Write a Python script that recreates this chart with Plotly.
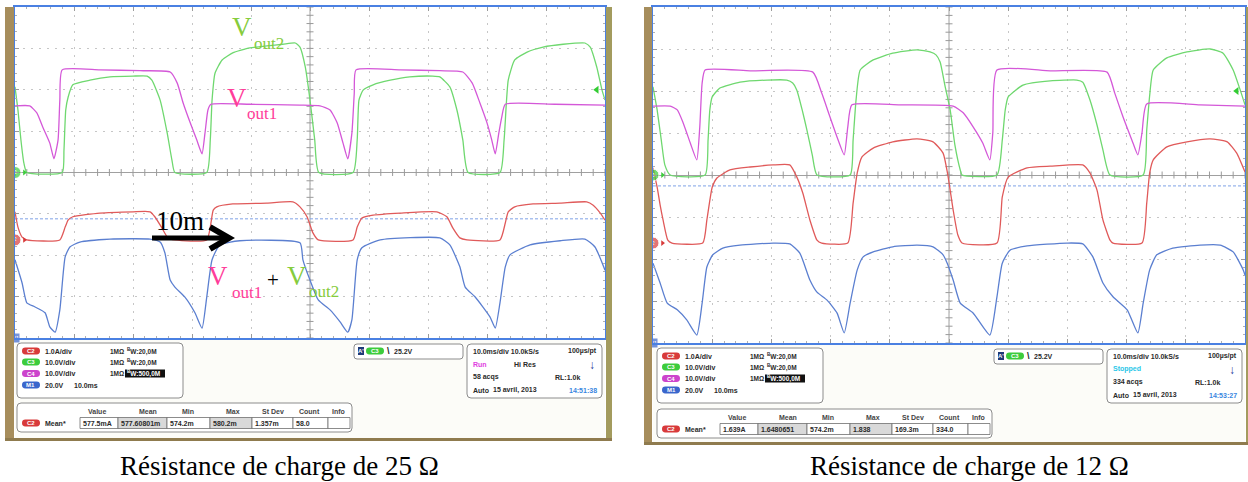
import plotly.graph_objects as go

W, H = 1248, 482

# time in ms (10 ms/div), amplitude in screen divisions (0 = centre line, +-4 div)
# C2 = load current (red), C3 = Vout2 (green), C4 = Vout1 (magenta), M1 = Vout1 + Vout2 (blue)

# ---- load of 25 ohm ----
c4_25_t = [0, 2.5, 3.7, 4.7, 5.9, 6.6, 7.3, 7.6, 8.0, 14.4, 21.2, 26.3, 27.5, 28.5, 29.7, 30.8, 31.7, 32.2,
           32.7, 33.2, 39.8, 48.3, 51.7, 53.4, 54.6, 55.6, 56.4, 57.1, 57.5, 57.8, 65.3, 72.0, 75.9, 77.5,
           78.8, 80.0, 80.8, 81.4, 82.0, 82.5, 83.1, 91.5, 100]
c4_25_v = [1.61, 1.61, 1.44, 1.10, 0.71, 0.33, 0.79, 1.75, 2.48, 2.48, 2.46, 2.43, 2.16, 1.68, 1.20, 0.79,
           0.45, 0.95, 1.51, 1.65, 1.65, 1.63, 1.61, 1.51, 1.20, 0.71, 0.33, 0.95, 1.91, 2.48, 2.48, 2.46,
           2.43, 2.16, 1.68, 1.20, 0.79, 0.45, 0.95, 1.34, 1.65, 1.65, 1.63]

c3_25_t = [0, 0.5, 1.0, 1.5, 2.0, 8.0, 8.3, 8.6, 9.0, 9.8, 12.7, 16.1, 20.0, 22.4, 23.2, 24.6, 25.8, 26.6,
           27.1, 32.5, 33.1, 33.4, 33.9, 35.1, 36.9, 39.8, 42.7, 45.4, 47.5, 48.3, 49.2, 50.0, 50.8, 51.5,
           57.3, 58.0, 58.3, 59.0, 60.7, 63.6, 66.9, 70.8, 72.0, 73.7, 74.9, 75.9, 76.8, 82.2, 82.9, 83.6,
           84.7, 86.8, 89.5, 92.9, 96.6, 97.5, 98.6, 99.5, 100]
c3_25_v = [2.07, 1.51, 0.79, 0.23, 0, 0, 0.54, 1.51, 1.82, 2.12, 2.23, 2.31, 2.33, 2.33, 2.23, 1.75, 0.95,
           0.30, 0, 0, 0.79, 1.75, 2.40, 2.72, 2.89, 3.01, 3.06, 3.10, 3.13, 3.03, 2.55, 1.75, 0.79, 0, 0,
           0.79, 1.75, 1.99, 2.12, 2.23, 2.31, 2.33, 2.31, 2.07, 1.51, 0.79, 0, 0, 0.79, 2.23, 2.72, 2.91,
           3.03, 3.10, 3.13, 3.03, 2.55, 1.99, 1.75]

c2_25_t = [0, 0.5, 1.2, 2.0, 7.6, 8.5, 9.0, 9.8, 14.4, 20.0, 22.9, 23.7, 24.9, 25.9, 27.1, 32.5, 33.6, 34.2,
           36.9, 42.7, 47.1, 48.3, 49.5, 50.5, 51.4, 57.3, 58.0, 58.8, 60.7, 65.3, 71.5, 73.2, 74.2, 75.4,
           76.6, 82.2, 83.1, 83.6, 84.7, 87.8, 92.4, 96.9, 98.0, 99.2, 100]
c2_25_v = [-0.95, -1.32, -1.56, -1.63, -1.63, -1.32, -1.15, -1.07, -0.98, -0.95, -0.95, -1.07, -1.34, -1.58,
           -1.63, -1.63, -0.91, -0.83, -0.76, -0.74, -0.71, -0.83, -1.07, -1.46, -1.63, -1.63, -1.32, -1.10,
           -1.03, -0.98, -0.95, -1.07, -1.34, -1.58, -1.63, -1.63, -1.22, -0.95, -0.83, -0.76, -0.74, -0.71,
           -0.79, -0.98, -1.15]

m1_25_t = [0, 1.2, 2.0, 3.4, 5.1, 5.9, 6.8, 7.6, 8.5, 9.3, 11.0, 16.1, 22.9, 24.6, 25.4, 26.3, 27.1, 28.8,
           30.5, 31.7, 32.5, 33.4, 34.7, 38.1, 48.3, 48.8, 50.0, 51.4, 53.4, 55.1, 56.4, 57.1, 58.0, 58.8,
           61.9, 72.0, 73.7, 75.4, 76.3, 78.0, 80.5, 81.4, 82.2, 83.1, 83.9, 87.3, 92.4, 96.6, 98.3, 100]
m1_25_v = [-2.11, -2.67, -3.15, -3.25, -3.39, -3.73, -3.86, -3.32, -2.04, -1.80, -1.68, -1.61, -1.61, -1.68,
           -1.94, -2.60, -2.77, -3.01, -3.39, -3.76, -3.01, -2.11, -1.75, -1.65, -1.70, -2.11, -2.60, -3.08,
           -3.32, -3.61, -3.86, -3.56, -2.11, -1.82, -1.63, -1.58, -1.75, -2.28, -2.77, -3.01, -3.49, -3.76,
           -3.15, -2.28, -1.99, -1.75, -1.65, -1.61, -1.80, -2.36]

# ---- load of 12 ohm ----
c4_12_t = [0, 2.9, 4.1, 5.1, 6.3, 7.4, 7.9, 8.3, 8.8, 16.4, 27.0, 28.5, 29.9, 31.1, 32.3, 32.9, 33.6, 41.7,
           50.7, 52.4, 54.1, 55.7, 56.9, 57.4, 58.1, 67.1, 76.7, 78.0, 79.4, 80.9, 81.9, 82.6, 83.4, 92.4, 100]
c4_12_v = [1.64, 1.64, 1.55, 1.24, 0.76, 0.36, 1.14, 2.19, 2.50, 2.48, 2.45, 1.95, 1.38, 0.90, 0.48, 1.14,
           1.67, 1.67, 1.64, 1.48, 1.14, 0.76, 0.36, 1.00, 2.50, 2.48, 2.45, 1.95, 1.38, 0.83, 0.48, 1.00,
           1.69, 1.67, 1.64]

c3_12_t = [0, 0.7, 1.4, 2.0, 2.9, 8.8, 9.3, 9.6, 10.0, 11.3, 14.7, 19.3, 22.6, 23.6, 24.3, 25.2, 26.0, 26.9,
           27.7, 33.3, 33.8, 34.3, 35.0, 37.2, 40.5, 44.6, 46.8, 47.8, 48.5, 49.3, 50.2, 51.0, 51.9, 52.2,
           58.1, 59.0, 59.5, 60.0, 62.5, 67.1, 71.6, 72.6, 73.8, 75.0, 76.0, 77.2, 82.8, 83.4, 83.9, 84.5,
           86.8, 90.2, 94.1, 96.3, 98.0, 99.2, 100]
c3_12_v = [2.10, 1.55, 0.83, 0.24, 0, 0, 0.83, 1.55, 1.86, 2.07, 2.21, 2.26, 2.26, 2.19, 2.02, 1.55, 1.07,
           0.48, 0, 0, 0.83, 1.79, 2.50, 2.74, 2.90, 2.98, 2.93, 2.86, 2.69, 2.14, 1.55, 0.71, 0.12, 0, 0,
           0.83, 1.55, 1.86, 2.14, 2.24, 2.26, 2.21, 1.79, 1.19, 0.60, 0, 0, 1.07, 1.90, 2.50, 2.79, 2.93,
           3.00, 2.90, 2.50, 2.02, 1.67]

c2_12_t = [0, 0.7, 1.2, 1.7, 2.5, 3.2, 8.4, 9.1, 10.0, 10.8, 13.0, 16.4, 20.3, 23.1, 24.3, 25.3, 26.5, 27.7,
           28.5, 32.9, 33.8, 34.5, 35.3, 37.2, 40.5, 44.6, 47.3, 49.0, 49.8, 50.7, 51.5, 52.2, 58.1, 59.0,
           60.0, 63.2, 67.1, 72.6, 73.8, 75.0, 76.0, 77.2, 77.7, 82.6, 83.4, 83.9, 84.5, 86.8, 90.2, 94.1,
           97.0, 98.6, 100]
c2_12_v = [0.17, -0.29, -0.71, -1.07, -1.55, -1.62, -1.62, -1.07, -0.29, -0.07, 0.12, 0.19, 0.24, 0.24,
           -0.05, -0.43, -1.07, -1.55, -1.62, -1.62, -0.67, 0.05, 0.43, 0.64, 0.79, 0.86, 0.79, 0.52, 0,
           -0.83, -1.43, -1.62, -1.62, -0.52, -0.05, 0.17, 0.21, 0.24, 0.05, -0.36, -1.07, -1.55, -1.62,
           -1.62, -0.67, 0.05, 0.36, 0.67, 0.79, 0.86, 0.79, 0.52, 0.07]

m1_12_t = [0, 1.2, 2.4, 4.1, 5.7, 7.4, 8.3, 9.1, 10.1, 11.8, 14.7, 20.3, 23.1, 24.8, 26.5, 27.7, 29.4, 31.1,
           32.3, 33.3, 34.5, 35.5, 37.2, 40.5, 44.6, 47.3, 49.0, 49.7, 50.7, 51.9, 54.1, 56.9, 58.1, 59.0,
           60.3, 63.2, 69.9, 72.6, 74.3, 76.0, 77.7, 80.1, 81.9, 82.8, 83.9, 85.1, 87.8, 92.4, 95.8, 98.0,
           99.7, 100]
m1_12_v = [-2.10, -2.57, -3.05, -3.21, -3.45, -3.81, -3.05, -2.19, -1.90, -1.74, -1.67, -1.62, -1.64, -1.86,
           -2.50, -2.79, -2.98, -3.29, -3.76, -3.05, -2.26, -1.95, -1.83, -1.71, -1.67, -1.71, -1.90, -2.10,
           -2.50, -3.05, -3.29, -3.81, -2.90, -2.10, -1.79, -1.69, -1.62, -1.64, -1.95, -2.57, -2.90, -3.21,
           -3.76, -3.05, -2.26, -1.90, -1.74, -1.67, -1.67, -1.83, -2.26, -2.38]

ground_c3 = [0.0, 0.0]
ground_c2 = [-1.63, -1.62]
ground_m1 = [-4.0, -4.0]
cursor_level = [-1.12, -0.26]
trig_level = [2.0, 2.0]

captions = ["Résistance de charge de 25 Ω", "Résistance de charge de 12 Ω"]
meas_heads = ["Value", "Mean", "Min", "Max", "St Dev", "Count", "Info"]
meas_25 = ["577.5mA", "577.60801m", "574.2m", "580.2m", "1.357m", "58.0", ""]
meas_12 = ["1.639A", "1.6480651", "574.2m", "1.838", "169.3m", "334.0", ""]

COL = {"C2": "#e05a5a", "C3": "#6fd86f", "C4": "#d458d8", "M1": "#5b7fd0"}
PILL = {"C2": "#d83a3a", "C3": "#3ccc3c", "C4": "#cc44cc", "M1": "#3a66cc"}
PINK = "#ff3d9a"
LGREEN = "#86cc3c"


def X(px):
    return px / W


def Y(py):
    return 1 - py / H


shapes = []
annotations = []


def rect(x0, y0, x1, y1, fill, line=None, width=0, layer="above"):
    shapes.append(dict(type="rect", xref="paper", yref="paper", x0=X(x0), x1=X(x1), y0=Y(y1), y1=Y(y0),
                       fillcolor=fill, line=dict(color=line or fill, width=width), layer=layer))


def rrect(x0, y0, x1, y1, r, fill, line=None, width=1):
    p = (f"M {X(x0 + r)} {Y(y0)} L {X(x1 - r)} {Y(y0)} Q {X(x1)} {Y(y0)} {X(x1)} {Y(y0 + r)} "
         f"L {X(x1)} {Y(y1 - r)} Q {X(x1)} {Y(y1)} {X(x1 - r)} {Y(y1)} L {X(x0 + r)} {Y(y1)} "
         f"Q {X(x0)} {Y(y1)} {X(x0)} {Y(y1 - r)} L {X(x0)} {Y(y0 + r)} Q {X(x0)} {Y(y0)} {X(x0 + r)} {Y(y0)} Z")
    shapes.append(dict(type="path", xref="paper", yref="paper", path=p, fillcolor=fill,
                       line=dict(color=line or fill, width=width if line else 0), layer="above"))


def txt(px, py, s, size=7, color="#2a2a2a", anchor="left", family="Liberation Sans", bold=True):
    if bold:
        s = "<b>" + s + "</b>"
    annotations.append(dict(x=X(px), y=Y(py), xref="paper", yref="paper", text=s, showarrow=False,
                            xanchor=anchor, yanchor="middle", borderpad=0,
                            font=dict(family=family, size=size, color=color)))


def pill(x0, yc, name):
    rrect(x0, yc - 3.5, x0 + 18, yc + 3.5, 3.4, PILL[name])
    txt(x0 + 9, yc, name, size=6, color="white", anchor="center")


def scope_frame(gx0, gx1, gy1, fx0, fx1, fy1):
    # panel below the graticule and the olive bezel
    rect(gx0, gy1 + 1, gx1, fy1 - 3, "#fcfcf8", layer="below")
    rect(fx0, 7, gx0 - 1, fy1, "#a68d5c")
    rect(gx1 + 1, 7, fx1, fy1, "#a39b5e")
    rect(fx0, fy1 - 3, fx1, fy1, "#8f7b4e")


def scope_panel(dx, dy, dym, vals, state, state_col, acqs, clock):
    # channel box
    rrect(17 + dx, 343 + dy, 183 + dx, 398 + dy, 4, "white", "#8c8c8c", 1)
    rows = [351, 362, 373.5, 385]
    names = ["C2", "C3", "C4", "M1"]
    scales = ["1.0A/div", "10.0V/div", "10.0V/div", "20.0V"]
    for r, n, s in zip(rows, names, scales):
        pill(22 + dx, r + dy, n)
        txt(44 + dx, r + dy, s)
    for r in rows[:3]:
        txt(109 + dx, r + dy, "1MΩ", size=6.5)
    txt(126 + dx, rows[0] + dy, "<sup>B</sup>W:20,0M", size=6.5)
    txt(126 + dx, rows[1] + dy, "<sup>B</sup>W:20,0M", size=6.5)
    rect(125 + dx, rows[2] + dy - 4, 165 + dx, rows[2] + dy + 4, "#111111")
    txt(126 + dx, rows[2] + dy, "<sup>B</sup>W:500,0M", size=6.5, color="white")
    txt(73 + dx, rows[3] + dy, "10.0ms")

    # measurement box
    rrect(17 + dx, 403 + dym, 352 + dx, 432 + dym, 4, "white", "#8c8c8c", 1)
    heads_x = [97, 148, 188, 233, 273, 309, 338]
    for hx, h in zip(heads_x, meas_heads):
        txt(hx + dx, 411 + dym, h, color="#444444", anchor="center")
    pill(22 + dx, 423 + dym, "C2")
    txt(44 + dx, 423 + dym, "Mean*")
    edges = [80, 118, 167, 210, 252, 293, 328, 350]
    for i, v in enumerate(vals):
        fill = "#d9d9d9" if i in (1, 3) else "white"
        rect(edges[i] + dx, 417.5 + dym, edges[i + 1] + dx, 428.5 + dym, fill, "#6f6f6f", 0.8)
        if v:
            txt(edges[i] + dx + 2, 423 + dym, v)

    # trigger box
    rrect(354 + dx, 344 + dy, 463 + dx, 359 + dy, 3, "white", "#8c8c8c", 1)
    rect(358 + dx, 347 + dy, 364 + dx, 355 + dy, "#1f3a78")
    txt(361 + dx, 351 + dy, "A'", size=6, color="white", anchor="center")
    pill(366 + dx, 351 + dy, "C3")
    txt(386 + dx, 351 + dy, "\\", size=9, color="#222222")
    txt(393 + dx, 351 + dy, "25.2V")

    # timebase box
    rrect(467 + dx, 344 + dy, 602 + dx, 398 + dy, 4, "white", "#8c8c8c", 1)
    txt(472 + dx, 351 + dy, "10.0ms/div 10.0kS/s")
    txt(598 + dx, 351 + dy, "100µs/pt", anchor="right")
    txt(472 + dx, 364 + dy, state, color=state_col)
    if state == "Run":
        txt(513 + dx, 364 + dy, "Hi Res")
    txt(592 + dx, 365 + dy, "↓", size=12, color="#1f3a9a", anchor="center")
    txt(472 + dx, 377 + dy, acqs)
    txt(581 + dx, 377 + dy, "RL:1.0k", anchor="right")
    txt(472 + dx, 390 + dy, "Auto")
    txt(492 + dx, 390 + dy, "15 avril, 2013")
    txt(598 + dx, 390 + dy, clock, color="#3a86e0", anchor="right")


scope_frame(15, 605, 338, 5, 612, 441)
scope_frame(653, 1245, 343, 644, 1248, 445)
scope_panel(0, 0, 0, meas_25, "Run", "#e03ee0", "58 acqs", "14:51:38")
scope_panel(640, 5, 6, meas_12, "Stopped", "#29c6e8", "334 acqs", "14:53:27")

fig = go.Figure()

scopes = [
    ("x", "y", [(c3_25_t, c3_25_v, "C3"), (c4_25_t, c4_25_v, "C4"), (c2_25_t, c2_25_v, "C2"),
                (m1_25_t, m1_25_v, "M1")]),
    ("x2", "y2", [(c3_12_t, c3_12_v, "C3"), (c4_12_t, c4_12_v, "C4"), (c2_12_t, c2_12_v, "C2"),
                  (m1_12_t, m1_12_v, "M1")]),
]

for k, (xa, ya, traces) in enumerate(scopes):
    # ticks along the centre cross
    fig.add_trace(go.Scatter(x=[t * 2 for t in range(51)], y=[0] * 51, mode="markers", xaxis=xa, yaxis=ya,
                             marker=dict(symbol="line-ns", size=5, line=dict(color="#9a9a9a", width=1)),
                             hoverinfo="skip", showlegend=False))
    fig.add_trace(go.Scatter(x=[50] * 41, y=[-4 + 0.2 * i for i in range(41)], mode="markers", xaxis=xa,
                             yaxis=ya, marker=dict(symbol="line-ew", size=5, line=dict(color="#9a9a9a", width=1)),
                             hoverinfo="skip", showlegend=False))
    shapes.append(dict(type="line", xref=xa, yref=ya + " domain", x0=50, x1=50, y0=0, y1=1,
                       line=dict(color="#a0a0a0", width=1), layer="below"))
    shapes.append(dict(type="line", xref=xa, yref=ya, x0=0, x1=100, y0=cursor_level[k], y1=cursor_level[k],
                       line=dict(color="#7fa2e6", width=1, dash="3px,2px"), layer="below"))
    for t, v, ch in traces:
        fig.add_trace(go.Scatter(x=t, y=v, mode="lines", xaxis=xa, yaxis=ya,
                                 line=dict(color=COL[ch], width=1.3, shape="spline", smoothing=0.5),
                                 hoverinfo="skip", showlegend=False))
    # ground markers at the left edge and trigger arrow at the right
    fig.add_trace(go.Scatter(x=[0, 0, 0], y=[ground_c3[k], ground_c2[k], ground_m1[k]], mode="markers+text",
                             xaxis=xa, yaxis=ya, text=["3", "2", "M1"], textposition="middle center",
                             textfont=dict(family="Liberation Sans", size=6, color="white"),
                             marker=dict(symbol=["circle", "circle", "square"], size=[12, 12, 10],
                                         color=[PILL["C3"], PILL["C2"], PILL["M1"]],
                                         line=dict(color="#ffffff", width=1)),
                             cliponaxis=False, hoverinfo="skip", showlegend=False))
    fig.add_trace(go.Scatter(x=[1.6, 1.6], y=[ground_c3[k], ground_c2[k]], mode="markers", xaxis=xa, yaxis=ya,
                             marker=dict(symbol="triangle-right", size=5, color=[PILL["C3"], PILL["C2"]]),
                             cliponaxis=False, hoverinfo="skip", showlegend=False))
    fig.add_trace(go.Scatter(x=[98.6], y=[trig_level[k]], mode="markers", xaxis=xa, yaxis=ya,
                             marker=dict(symbol="triangle-left", size=7, color="#33cc33"),
                             cliponaxis=False, hoverinfo="skip", showlegend=False))


def axis_pair(dom_x, dom_y, anchor_x, anchor_y):
    common = dict(showgrid=True, gridcolor="#c6c6c6", griddash="2px,6px", gridwidth=1, showticklabels=False,
                  showline=True, linecolor="#4a80e2", linewidth=2, mirror="allticks", ticks="inside",
                  ticklen=4, tickcolor="#9a9a9a", fixedrange=True)
    xa = dict(common, domain=dom_x, range=[0, 100], dtick=10, anchor=anchor_y, zeroline=False,
              minor=dict(dtick=2, ticks="inside", ticklen=2, tickcolor="#b0b0b0"))
    ya = dict(common, domain=dom_y, range=[-4, 4], dtick=1, anchor=anchor_x, zeroline=True,
              zerolinecolor="#a0a0a0", zerolinewidth=1,
              minor=dict(dtick=0.2, ticks="inside", ticklen=2, tickcolor="#b0b0b0"))
    return xa, ya


xa1, ya1 = axis_pair([X(15), X(605)], [Y(338), Y(7)], "x", "y")
xa2, ya2 = axis_pair([X(653), X(1245)], [Y(343), Y(7)], "x2", "y2")

# hand annotations drawn over the left capture
serif = "Liberation Serif"
annotations += [
    dict(x=X(242), y=Y(27), text="V", font=dict(family=serif, size=27, color=LGREEN)),
    dict(x=X(252), y=Y(43), text="out2", xanchor="left", font=dict(family=serif, size=17, color=LGREEN)),
    dict(x=X(237), y=Y(98), text="V", font=dict(family=serif, size=27, color=PINK)),
    dict(x=X(245), y=Y(113), text="out1", xanchor="left", font=dict(family=serif, size=17, color=PINK)),
    dict(x=X(154), y=Y(221), text="10m", xanchor="left", font=dict(family=serif, size=27, color="black")),
    dict(x=X(218), y=Y(276), text="V", font=dict(family=serif, size=27, color=PINK)),
    dict(x=X(230), y=Y(292), text="out1", xanchor="left", font=dict(family=serif, size=17, color=PINK)),
    dict(x=X(273), y=Y(280), text="+", font=dict(family=serif, size=21, color="black")),
    dict(x=X(297), y=Y(276), text="V", font=dict(family=serif, size=27, color=LGREEN)),
    dict(x=X(307), y=Y(291), text="out2", xanchor="left", font=dict(family=serif, size=17, color=LGREEN)),
    dict(x=X(118), y=Y(466), text=captions[0], xanchor="left", font=dict(family=serif, size=27, color="black")),
    dict(x=X(808), y=Y(466), text=captions[1], xanchor="left", font=dict(family=serif, size=27, color="black")),
]
for a in annotations[-12:]:
    a.update(xref="paper", yref="paper", showarrow=False, yanchor="middle")
    a.setdefault("xanchor", "center")

# the black "10m" arrow
shapes.append(dict(type="line", xref="paper", yref="paper", x0=X(152), x1=X(226), y0=Y(238), y1=Y(238),
                   line=dict(color="black", width=5)))
shapes.append(dict(type="path", xref="paper", yref="paper",
                   path=f"M {X(210)} {Y(227)} L {X(229)} {Y(238)} L {X(210)} {Y(249)}",
                   line=dict(color="black", width=6)))

fig.update_layout(
    width=W, height=H, margin=dict(l=0, r=0, t=0, b=0),
    paper_bgcolor="white", plot_bgcolor="white",
    xaxis=xa1, yaxis=ya1, xaxis2=xa2, yaxis2=ya2,
    shapes=shapes, annotations=annotations, showlegend=False,
)

fig.write_html("out.html", config={"displayModeBar": False},
               post_script="document.body.style.margin='0';")
